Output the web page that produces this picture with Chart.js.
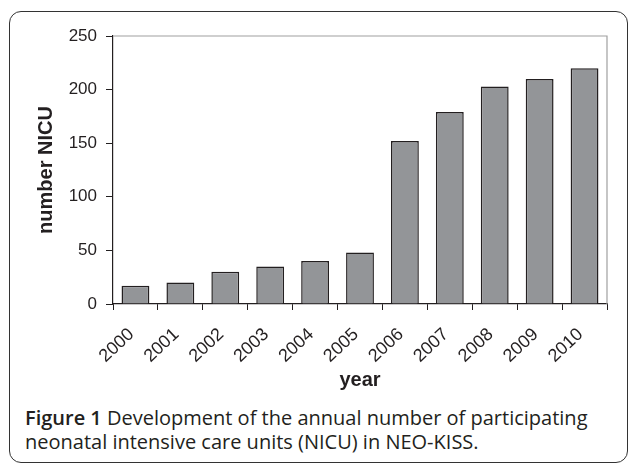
<!DOCTYPE html>
<html>
<head>
<meta charset="utf-8">
<script src="https://cdn.jsdelivr.net/npm/chart.js@4"></script>
<style>
  html, body { margin: 0; padding: 0; background: #fff; }
  body { width: 629px; height: 464px; position: relative; overflow: hidden; }
  #frame {
    position: absolute; left: 9px; top: 11px; width: 619px; height: 452px;
    border: 1.5px solid #333; border-radius: 12px; box-sizing: border-box;
  }
  #wrap { position: absolute; left: 0; top: 0; width: 629px; height: 400px; }
  #caption {
    position: absolute; left: 25px; top: 406px; width: 600px; white-space: nowrap;
    font-family: "Open Sans", sans-serif; font-size: 20px; line-height: 24px; color: #231f20;
  }
  #caption b { font-weight: 600; }
</style>
</head>
<body>
<div id="frame"></div>
<div id="wrap"><canvas id="nicu-graph"></canvas></div>
<div id="caption"><b>Figure 1</b> Development of the annual number of participating<br>neonatal intensive care units (NICU) in NEO-KISS.</div>
<script>
const years = ["2000", "2001", "2002", "2003", "2004", "2005", "2006", "2007", "2008", "2009", "2010"];
const nicuCounts = [17, 20, 30, 35, 40, 48, 152, 179, 203, 210, 220];
const yTicks = [0, 50, 100, 150, 200, 250];

// Gray frame on the top and right side of the plot
const plotFrame = {
  id: "plotFrame",
  afterDraw(chart) {
    const { ctx, chartArea } = chart;
    ctx.save();
    ctx.strokeStyle = "#a0a0a0";
    ctx.lineWidth = 1.2;
    ctx.beginPath();
    ctx.moveTo(chartArea.left, chartArea.top);
    ctx.lineTo(chartArea.right, chartArea.top);
    ctx.lineTo(chartArea.right, chartArea.bottom);
    ctx.stroke();
    ctx.restore();
  },
};

const ctx = document.getElementById("nicu-graph");

new Chart(ctx, {
  type: "bar",
  data: {
    labels: years,
    datasets: [
      {
        data: nicuCounts,
        backgroundColor: "#939598",
        borderColor: "#231f20",
        borderWidth: 1.5,
        categoryPercentage: 1,
        barPercentage: 0.62,
      },
    ],
  },
  options: {
    animation: false,
    responsive: true,
    maintainAspectRatio: false,
    layout: { padding: { left: 20, right: 22, top: 36, bottom: 0 } },
    scales: {
      x: {
        grid: { offset: true, drawOnChartArea: false, tickLength: 6, color: "#231f20", lineWidth: 1 },
        border: { color: "#231f20", width: 1.2 },
        ticks: {
          minRotation: 43,
          maxRotation: 43,
          padding: 14,
          labelOffset: -4,
          color: "#231f20",
          font: { family: "Liberation Sans", size: 18 },
        },
        title: {
          display: true,
          text: "year",
          color: "#231f20",
          padding: { top: 0, bottom: 8 },
          font: { family: "Liberation Sans", size: 20, weight: "bold" },
        },
        afterFit(scale) {
          scale.height = 96;
        },
      },
      y: {
        min: 0,
        max: 250,
        afterBuildTicks(scale) {
          scale.ticks = yTicks.map((v) => ({ value: v }));
        },
        grid: { drawOnChartArea: false, tickLength: 7, color: "#231f20" },
        border: { color: "#231f20", width: 1.2 },
        ticks: {
          padding: 9,
          color: "#231f20",
          font: { family: "Liberation Sans", size: 17 },
        },
        title: {
          display: true,
          text: "number NICU",
          color: "#231f20",
          padding: { top: 14, bottom: 0 },
          font: { family: "Liberation Sans", size: 20, weight: "bold" },
        },
        afterFit(scale) {
          scale.width = 93;
        },
      },
    },
    plugins: {
      legend: { display: false },
      tooltip: { enabled: false },
    },
  },
  plugins: [plotFrame],
});
</script>
</body>
</html>
